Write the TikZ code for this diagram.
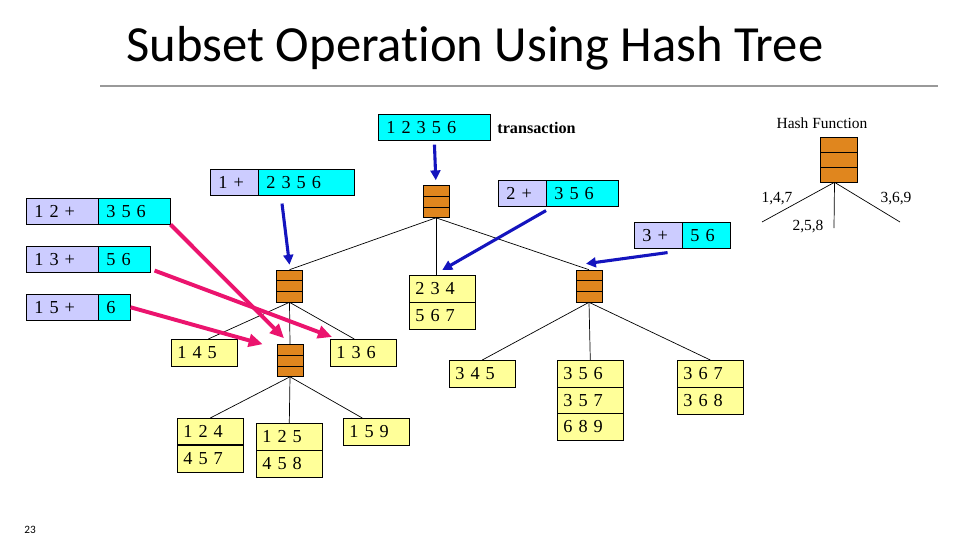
\documentclass[tikz,border=0pt]{standalone}
\usepackage{fontspec}
\setmainfont{Liberation Serif}
\newfontfamily\titlefont[Ligatures=NoCommon]{Carlito}
\usetikzlibrary{arrows.meta,calc}
\definecolor{lavender}{RGB}{204,204,255}
\definecolor{cyanbox}{RGB}{0,255,255}
\definecolor{leafyellow}{RGB}{255,255,153}
\definecolor{hashorange}{RGB}{224,134,30}
\definecolor{arrowblue}{RGB}{20,20,190}
\definecolor{arrowpink}{RGB}{235,20,110}
\tikzset{
  pre/.style={draw, fill=lavender, anchor=north west, inner xsep=0.2cm, inner ysep=0pt,
    minimum height=0.65cm, text width=#1, align=left, font=\fontsize{13}{13}\selectfont},
  rest/.style={pre=#1, fill=cyanbox},
  leaf/.style={draw, fill=leafyellow, anchor=north west, inner xsep=0.15cm, inner ysep=0pt,
    minimum height=0.675cm, text width=1.35cm, align=left, font=\fontsize{13}{13}\selectfont},
  hashbox/.style={draw, fill=hashorange, minimum width=0.65cm, minimum height=0.8cm, inner sep=0pt,
    path picture={
      \foreach \f in {0.333,0.667}
        \draw ($(path picture bounding box.north west)!\f!(path picture bounding box.south west)$)
          -- ($(path picture bounding box.north east)!\f!(path picture bounding box.south east)$);
    }},
  treeline/.style={line width=0.5pt},
  bluearrow/.style={draw=arrowblue, line width=2.2pt, -{Triangle[length=7pt,width=7pt]}},
  pinkarrow/.style={draw=arrowpink, line width=2.8pt, -{Triangle[length=10pt,width=9pt]}},
}
\begin{document}
\begin{tikzpicture}[x=0.025cm,y=-0.025cm]
\useasboundingbox (0,0) rectangle (960,540);
\node[font=\titlefont\fontsize{36}{40}\selectfont] (title) at (475,48) {Subset Operation Using Hash Tree};
\draw[gray!80, line width=0.8pt] (100,86) -- (938,86);
\node[font=\titlefont\fontsize{8}{9}\selectfont] (pagenum) at (30,530) {23};
% transaction and its splits
\node[rest=2.4cm] (trans) at (378,114) {1 2 3 5 6};
\node[font=\bfseries\fontsize{11.5}{12}\selectfont] (translabel) at (536.5,128) {transaction};
\node[pre=0.8cm] (p1) at (210,169) {1 +};
\node[rest=2.0cm] (c1) at (258,169) {2 3 5 6};
\node[pre=0.8cm] (p2) at (498,180) {2 +};
\node[rest=1.4cm] (c2) at (546,180) {3 5 6};
\node[pre=0.8cm] (p3) at (634,222) {3 +};
\node[rest=0.8cm] (c3) at (682,222) {5 6};
\node[pre=1.4cm] (p12) at (26,198) {1 2 +};
\node[rest=1.4cm] (c12) at (98,198) {3 5 6};
\node[pre=1.4cm] (p13) at (26,246) {1 3 +};
\node[rest=0.9cm] (c13) at (98,246) {5 6};
\node[pre=1.4cm] (p15) at (26,294) {1 5 +};
\node[rest=0.4cm] (c15) at (98,294) {6};
% hash nodes
\node[hashbox] (root) at (436,201.5) {};
\node[hashbox] (h1) at (289.5,286) {};
\node[hashbox] (h3) at (589,286) {};
\node[hashbox] (h2) at (290,360.5) {};
% leaves
\node[leaf] (l234) at (409,275) {2 3 4};
\node[leaf] (l567) at (409,302) {5 6 7};
\node[leaf] (l145) at (171,339) {1 4 5};
\node[leaf] (l136) at (330,339) {1 3 6};
\node[leaf] (l124) at (177,418) {1 2 4};
\node[leaf] (l457) at (177,445) {4 5 7};
\node[leaf] (l125) at (256,423) {1 2 5};
\node[leaf] (l458) at (256,450) {4 5 8};
\node[leaf] (l159) at (343,418) {1 5 9};
\node[leaf] (l345) at (449,360) {3 4 5};
\node[leaf] (l356) at (557,360) {3 5 6};
\node[leaf] (l357) at (557,387) {3 5 7};
\node[leaf] (l689) at (557,413) {6 8 9};
\node[leaf] (l367) at (677,360) {3 6 7};
\node[leaf] (l368) at (677,387) {3 6 8};
\draw[line width=1.5pt] (l457.north west) -- (l457.north east);
% tree edges
\draw[treeline] (root.south) -- (h1.north);
\draw[treeline] (root.south) -- (root.south |- l234.north);
\draw[treeline] (root.south) -- (h3.north);
\draw[treeline] (h1.south) -- ([xshift=0.1cm]l145.north);
\draw[treeline] (h1.south) -- (h2.north);
\draw[treeline] (h1.south) -- ([xshift=-0.225cm]l136.north);
\draw[treeline] (h2.south) -- (l124.north);
\draw[treeline] (h2.south) -- (l125.north);
\draw[treeline] (h2.south) -- ([xshift=-0.35cm]l159.north);
\draw[treeline] (h3.south) -- (l345.north);
\draw[treeline] (h3.south) -- (l356.north);
\draw[treeline] (h3.south) -- (l367.north);
% hash function
\node[font=\fontsize{11}{12}\selectfont] (hflabel) at (822,123) {Hash Function};
\node[hashbox, minimum width=0.925cm, minimum height=1.125cm] (hf) at (838.5,159.5) {};
\coordinate (hfl) at (762,222);
\coordinate (hfm) at (834,228);
\coordinate (hfr) at (900,222);
\draw[treeline] ([xshift=-0.1cm]hf.south) -- (hfl);
\draw[treeline] ([xshift=-0.1cm]hf.south) -- (hfm);
\draw[treeline] ([xshift=-0.1cm]hf.south) -- (hfr);
\node[font=\fontsize{11}{12}\selectfont] (k147) at (777,199) {1,4,7};
\node[font=\fontsize{11}{12}\selectfont] (k258) at (808,227) {2,5,8};
\node[font=\fontsize{11}{12}\selectfont] (k369) at (896,199) {3,6,9};
% arrows
\draw[bluearrow, shorten <=0.1cm, shorten >=0.125cm] (trans.south) -- (root.north);
\draw[bluearrow] ([xshift=0.6cm,yshift=-0.2cm]c1.south west) -- ([yshift=0.125cm]h1.north);
\draw[bluearrow] ([yshift=-0.1cm]c2.south west) -- ([yshift=0.125cm]l234.north);
\draw[bluearrow] ([xshift=-0.375cm,yshift=-0.1cm]p3.south east) -- ([xshift=-0.075cm,yshift=0.15cm]h3.north);
\draw[pinkarrow] (c12.south east) -- ([xshift=-0.15cm,yshift=0.15cm]h2.north);
\draw[pinkarrow] ([xshift=0.1cm,yshift=0.05cm]c13.south east) -- ([xshift=0.05cm,yshift=0.05cm]l136.north west);
\draw[pinkarrow] (c15.east) -- ([xshift=-0.35cm]h2.north west);
\end{tikzpicture}
\end{document}
